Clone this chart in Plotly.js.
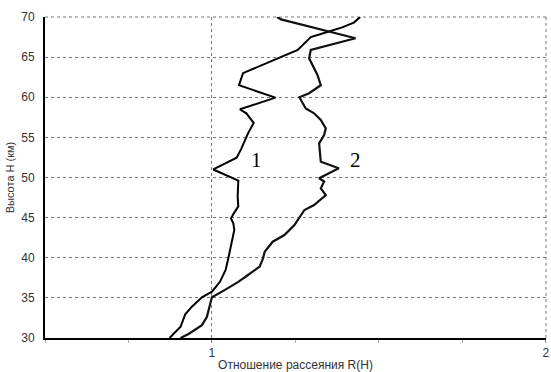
<!DOCTYPE html>
<html><head><meta charset="utf-8">
<script src="https://cdn.plot.ly/plotly-3.0.1.min.js"></script>
<style>html,body{margin:0;padding:0;background:#fff}#c{width:551px;height:372px}</style>
</head><body><div id="c"></div>
<script>
// Curve 1
const h1 = [30.0,31.4,32.95,33.9,35.07,35.77,37.0,38.47,39.93,41.8,43.46,44.3,44.9,45.5,45.95,46.4,47.6,49.6,51.0,52.47,53.6,55.5,56.8,58.0,58.5,59.95,61.5,63.0,65.9,66.7,67.5,68.0,68.7,69.3,70.0];
const r1 = [0.873,0.906,0.92,0.94,0.97,1.0,1.024,1.041,1.049,1.059,1.067,1.064,1.057,1.065,1.071,1.079,1.077,1.079,1.004,1.074,1.088,1.108,1.125,1.103,1.084,1.19,1.081,1.093,1.257,1.277,1.296,1.336,1.39,1.425,1.444];
// Curve 2
const h2 = [30.0,30.5,31.6,32.65,34.3,35.07,36.0,37.0,37.85,38.9,39.93,40.75,42.0,42.83,44.08,45.3,45.95,46.57,47.8,48.65,49.5,49.9,51.15,51.97,54.26,55.3,56.13,57.17,58.0,58.6,60.0,60.5,61.5,62.77,64.0,64.85,65.9,67.35,69.7,70.0];
const r2 = [0.906,0.93,0.97,0.985,0.995,1.0,1.039,1.079,1.108,1.143,1.153,1.158,1.182,1.217,1.247,1.266,1.277,1.306,1.341,1.326,1.336,1.321,1.38,1.326,1.321,1.336,1.341,1.326,1.306,1.281,1.262,1.291,1.326,1.316,1.301,1.291,1.296,1.43,1.207,1.195];
// Curve labels
const labelText = ["1","2"];
const labelR = [1.132,1.429];
const labelH = [52.2,52.2];

const xTitle = "Отношение рассеяния R(H)";
const yTitle = "Высота H (км)";

const traces = [
  {x:r1, y:h1, mode:'lines', line:{color:'#000', width:2}, hoverinfo:'skip'},
  {x:r2, y:h2, mode:'lines', line:{color:'#111', width:2.2}, hoverinfo:'skip'}
];
const annotations = labelText.map((t,i)=>({x:labelR[i], y:labelH[i], text:t, showarrow:false,
  font:{family:'Liberation Serif, Times New Roman, serif', size:21, color:'#000'}}));

const dashStyle = {color:'#777', width:1, dash:'3px,3px'};
const shapes = [
  {type:'line', xref:'paper', yref:'paper', x0:0, x1:1, y0:1, y1:1, line:dashStyle, layer:'below'},
  {type:'line', xref:'paper', yref:'paper', x0:1, x1:1, y0:0, y1:1, line:dashStyle, layer:'below'}
];

const layout = {
  width:551, height:372,
  margin:{l:45, r:5, t:17, b:34},
  paper_bgcolor:'#fff', plot_bgcolor:'#fff',
  showlegend:false,
  font:{family:'Liberation Sans, Arial, sans-serif', color:'#333'},
  xaxis:{range:[0.5,2.0005], tick0:0, dtick:1, showgrid:true, gridcolor:'#777', griddash:'3px,3px', gridwidth:1,
    zeroline:false, showline:true, linecolor:'#000', linewidth:2,
    ticks:'outside', ticklen:3, tickcolor:'#888', ticklabeloverflow:'allow',
    minor:{dtick:0.25, ticks:'outside', ticklen:3, tickcolor:'#aaa', showgrid:false},
    tickfont:{size:12, color:'#333'},
    title:{text:xTitle, font:{size:12, color:'#333'}, standoff:6}},
  yaxis:{range:[30,70], tick0:30, dtick:5, showgrid:true, gridcolor:'#777', griddash:'3px,3px', gridwidth:1,
    zeroline:false, showline:true, linecolor:'#000', linewidth:2, ticks:'', ticklabelstandoff:6,
    tickfont:{size:12, color:'#333'},
    title:{text:yTitle, font:{size:11, color:'#333'}, standoff:4}},
  shapes:shapes,
  annotations:annotations
};
Plotly.newPlot('c', traces, layout, {staticPlot:true, displayModeBar:false});
</script></body></html>
